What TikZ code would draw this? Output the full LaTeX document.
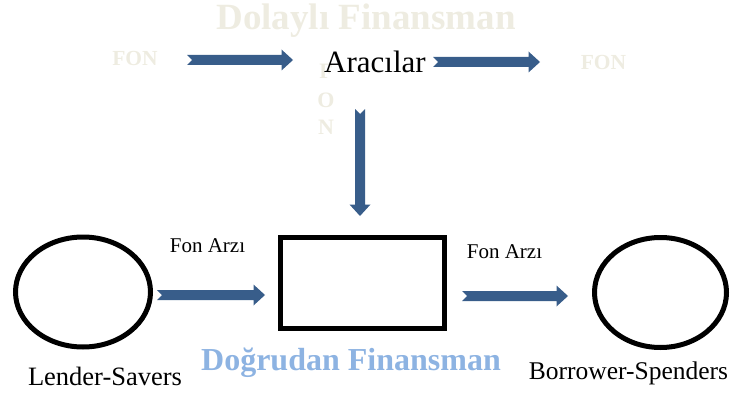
\documentclass[tikz,border=0pt]{standalone}
\usepackage{fontspec}
\setmainfont{Liberation Serif}
\usetikzlibrary{shapes.geometric}
\definecolor{arrowblue}{HTML}{385D8A}
\definecolor{paletan}{HTML}{EEECE1}
\definecolor{skyblue}{HTML}{8DB3E2}
\tikzset{
  party/.style={ellipse, draw, line width=5pt, minimum height=110pt, inner sep=0pt},
  market/.style={rectangle, draw, line width=5pt, minimum width=164pt, minimum height=91pt, inner sep=0pt},
  faint/.style={text=paletan, font=\bfseries\fontsize{21.5}{23}\selectfont, inner sep=0pt},
  % notched block arrow of the given length, pointing along +x
  pics/fatarrow/.style={code={
    \fill[arrowblue] (0,5) -- (#1-11.5,5) -- (#1-11.5,10.5) -- (#1,0)
      -- (#1-11.5,-10.5) -- (#1-11.5,-5) -- (0,-5) -- (5,0) -- cycle;}}
}
\begin{document}
\begin{tikzpicture}[x=1pt,y=-1pt]
\useasboundingbox (0,0) rectangle (739,396);

% headings
\node[anchor=base, inner sep=0pt, text=paletan, font=\bfseries\fontsize{37}{40}\selectfont] (indirect) at (366,30) {Dolaylı Finansman};

% vertical FON behind the intermediaries label
\node[faint, font=\bfseries\fontsize{22}{23}\selectfont] (vF) at (326,71) {F};
\node[faint, font=\bfseries\fontsize{22}{23}\selectfont] (vO) at (326,100) {O};
\node[faint, font=\bfseries\fontsize{22}{23}\selectfont] (vN) at (326,127) {N};

\node[faint] (fonL) at (135,58) {FON};
\node[faint] (fonR) at (603.5,62) {FON};

\node[anchor=base, inner sep=0pt, font=\fontsize{31}{34}\selectfont] (aracilar) at (375,73) {Aracılar};

% parties and the market
\node[party, minimum width=135pt] (lender) at (83,292) {};
\node[party, minimum width=132pt] (borrower) at (660.5,292.5) {};
\node[market] (direct) at (362.5,283) {};

\node[anchor=base, inner sep=0pt, font=\fontsize{26.5}{28}\selectfont] (lenderlbl) at (105,385) {Lender-Savers};
\node[anchor=base, inner sep=0pt, font=\fontsize{25.5}{28}\selectfont] (borrowerlbl) at (628.5,379) {Borrower-Spenders};

\node[anchor=base, inner sep=0pt, text=skyblue, font=\bfseries\fontsize{32}{34}\selectfont] (directlbl) at (351,370) {Doğrudan Finansman};

\node[anchor=base, inner sep=0pt, font=\fontsize{21}{22}\selectfont] (supplyL) at (207.5,252) {Fon Arzı};
\node[anchor=base, inner sep=0pt, font=\fontsize{21}{22}\selectfont] (supplyR) at (504.5,258) {Fon Arzı};

% block arrows
\coordinate (a1) at (187,60);
\coordinate (a2) at (433,62);
\coordinate (a3) at (360,109);
\coordinate (a4) at (157,295);
\coordinate (a5) at (462,296);
\pic at (a1) {fatarrow=106};
\pic at (a2) {fatarrow=107};
\pic[rotate=-90] at (a3) {fatarrow=107};
\pic at (a4) {fatarrow=108};
\pic at (a5) {fatarrow=106};
\end{tikzpicture}
\end{document}
